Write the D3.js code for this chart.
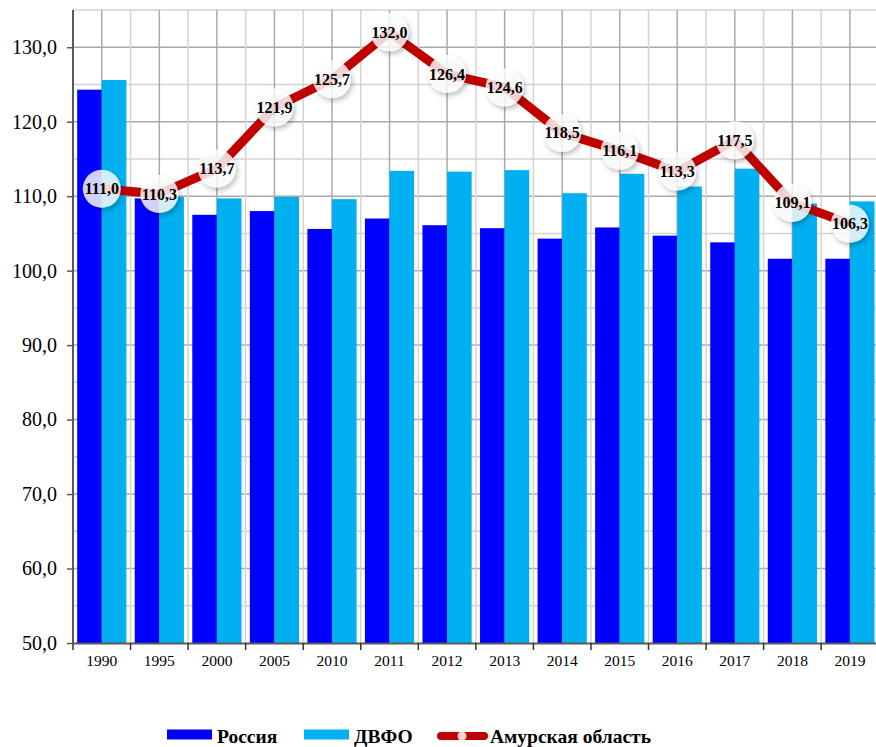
<!DOCTYPE html>
<html>
<head>
<meta charset="utf-8">
<script src="https://cdn.jsdelivr.net/npm/d3@7"></script>
<style>
  body { margin: 0; background: #fff; }
  svg { display: block; }
</style>
</head>
<body>
<div id="chart"></div>
<script>
var years = ["1990", "1995", "2000", "2005", "2010", "2011", "2012", "2013", "2014", "2015", "2016", "2017", "2018", "2019"];
var russia = [124.3, 109.7, 107.5, 108.0, 105.6, 107.0, 106.1, 105.7, 104.3, 105.8, 104.7, 103.8, 101.6, 101.6];
var dvfo = [125.6, 109.9, 109.7, 109.9, 109.6, 113.4, 113.3, 113.5, 110.4, 113.0, 111.3, 113.7, 109.0, 109.3];
var amur = [111.0, 110.3, 113.7, 121.9, 125.7, 132.0, 126.4, 124.6, 118.5, 116.1, 113.3, 117.5, 109.1, 106.3];
var yTicks = [50, 60, 70, 80, 90, 100, 110, 120, 130];
var seriesNames = ["Россия", "ДВФО", "Амурская область"];

var cfg = {
    width: 876,
    height: 747,
    left: 73,
    top: 10,
    right: 878.7,
    bottom: 643,
    font: "Liberation Serif",
    colors: { russia: "#0000ff", dvfo: "#00b0f0", amur: "#c00000" }
};

var fmt = (v) => v.toFixed(1).replace(".", ",");

var svg = d3.select("#chart").append("svg")
    .attr("width", cfg.width)
    .attr("height", cfg.height);

var defs = svg.append("defs");
var shadow = defs.append("filter").attr("id", "shadow")
    .attr("x", "-50%").attr("y", "-50%").attr("width", "200%").attr("height", "200%");
shadow.append("feDropShadow")
    .attr("dx", 2).attr("dy", 3).attr("stdDeviation", 2.5)
    .attr("flood-color", "#000").attr("flood-opacity", 0.3);

var x = d3.scaleBand().domain(years).range([cfg.left, cfg.right]);
var xInner = d3.scaleBand().domain(["russia", "dvfo"])
    .range([0, x.bandwidth()]).paddingOuter(0.17);
var y = d3.scaleLinear().domain([50, 135]).range([cfg.bottom, cfg.top]);

// grid
var grid = svg.append("g");
d3.range(55, 136, 5).forEach((v) => {
    grid.append("line")
        .attr("x1", cfg.left).attr("x2", cfg.right)
        .attr("y1", y(v)).attr("y2", y(v))
        .attr("stroke", v % 10 === 0 ? "#aaaaaa" : "#d3d3d3")
        .attr("stroke-width", 1.5);
});
years.forEach((yr, i) => {
    grid.append("line")
        .attr("x1", x(yr) + x.bandwidth() / 2).attr("x2", x(yr) + x.bandwidth() / 2)
        .attr("y1", cfg.top).attr("y2", cfg.bottom)
        .attr("stroke", "#aaaaaa").attr("stroke-width", 1.5);
    if (i > 0) {
        grid.append("line")
            .attr("x1", x(yr)).attr("x2", x(yr))
            .attr("y1", cfg.top).attr("y2", cfg.bottom)
            .attr("stroke", "#d3d3d3").attr("stroke-width", 1.5);
    }
});

// bars
var groups = svg.append("g").selectAll("g")
    .data(years)
    .join("g")
    .attr("transform", (d) => `translate(${x(d)},0)`);

groups.append("rect")
    .attr("x", xInner("russia"))
    .attr("width", xInner.bandwidth())
    .attr("y", (d, i) => y(russia[i]))
    .attr("height", (d, i) => y(50) - y(russia[i]))
    .attr("fill", cfg.colors.russia);

groups.append("rect")
    .attr("x", xInner("dvfo"))
    .attr("width", xInner.bandwidth())
    .attr("y", (d, i) => y(dvfo[i]))
    .attr("height", (d, i) => y(50) - y(dvfo[i]))
    .attr("fill", cfg.colors.dvfo);

// axes
var yAxis = svg.append("g")
    .attr("transform", `translate(${cfg.left},0)`)
    .call(d3.axisLeft(y).tickValues(yTicks).tickFormat(fmt).tickSize(6).tickSizeOuter(0));
yAxis.select(".domain").attr("stroke", "#595959").attr("stroke-width", 2)
    .attr("d", `M0,${cfg.top}V${cfg.bottom}`);
yAxis.selectAll(".tick line").attr("stroke", "#595959").attr("stroke-width", 1.5);
yAxis.selectAll(".tick text")
    .attr("x", -16)
    .attr("font-size", 20)
    .style("font-family", cfg.font)
    .attr("fill", "#000");

var xAxis = svg.append("g")
    .attr("transform", `translate(0,${cfg.bottom})`)
    .call(d3.axisBottom(x).tickSize(0).tickSizeOuter(0));
xAxis.select(".domain").attr("stroke", "#595959").attr("stroke-width", 2);
xAxis.selectAll(".tick text")
    .attr("y", 12)
    .attr("font-size", 15.5)
    .style("font-family", cfg.font)
    .attr("fill", "#000");
xAxis.selectAll(".bound")
    .data(years)
    .join("line")
    .attr("class", "bound")
    .attr("x1", (d) => x(d)).attr("x2", (d) => x(d))
    .attr("y1", 0).attr("y2", 7)
    .attr("stroke", "#333").attr("stroke-width", 1.5);

// line series
var cx = (i) => x(years[i]) + x.bandwidth() / 2;
var line = d3.line()
    .x((d, i) => cx(i))
    .y((d) => y(d));

svg.append("path")
    .datum(amur)
    .attr("d", line)
    .attr("fill", "none")
    .attr("stroke", cfg.colors.amur)
    .attr("stroke-width", 9)
    .attr("stroke-linejoin", "round");

var points = svg.append("g").selectAll("g")
    .data(amur)
    .join("g")
    .attr("transform", (d, i) => `translate(${cx(i)},${y(d)})`);

points.append("circle")
    .attr("r", 19)
    .attr("fill", "#ffffff")
    .attr("fill-opacity", 0.8)
    .attr("filter", "url(#shadow)");

points.append("text")
    .attr("text-anchor", "middle")
    .attr("dy", "0.35em")
    .attr("font-size", 16)
    .attr("font-weight", "bold")
    .style("font-family", cfg.font)
    .attr("fill", "#000")
    .text((d) => fmt(d));

// legend
var legend = svg.append("g");
var legendItems = [
    { name: seriesNames[0], x: 167, kind: "bar", color: cfg.colors.russia },
    { name: seriesNames[1], x: 304, kind: "bar", color: cfg.colors.dvfo },
    { name: seriesNames[2], x: 437, kind: "line", color: cfg.colors.amur }
];
legendItems.forEach((it) => {
    if (it.kind === "bar") {
        legend.append("rect")
            .attr("x", it.x).attr("y", 729.5)
            .attr("width", 45).attr("height", 10)
            .attr("fill", it.color);
    } else {
        legend.append("line")
            .attr("x1", it.x + 4).attr("x2", it.x + 47)
            .attr("y1", 736).attr("y2", 736)
            .attr("stroke", it.color).attr("stroke-width", 8)
            .attr("stroke-linecap", "round");
        legend.append("circle")
            .attr("cx", it.x + 25).attr("cy", 736).attr("r", 4.5)
            .attr("fill", "#f4d4d4");
    }
    legend.append("text")
        .attr("x", it.kind === "bar" ? it.x + 50 : it.x + 53)
        .attr("y", 743)
        .attr("font-size", 19.5)
        .attr("font-weight", "bold")
        .style("font-family", cfg.font)
        .attr("fill", "#000")
        .text(it.name);
});
</script>
</body>
</html>
